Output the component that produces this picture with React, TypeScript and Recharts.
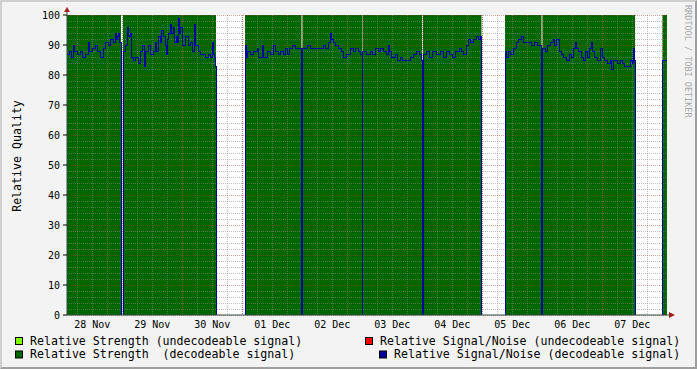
import React from 'react';
import {
  ComposedChart,
  Area,
  Line,
  XAxis,
  YAxis,
  CartesianGrid,
  ReferenceDot,
  Legend,
} from 'recharts';

// time is in hours since 28 Nov 00:00
const xDomain: [number, number] = [1.9, 241.9];
const dayLabels = ['28 Nov', '29 Nov', '30 Nov', '01 Dec', '02 Dec', '03 Dec', '04 Dec', '05 Dec', '06 Dec', '07 Dec'];
const dayNoonHours = [12, 36, 60, 84, 108, 132, 156, 180, 204, 228];
const midnightHours = [24, 48, 72, 96, 120, 144, 168, 192, 216, 240];
const sixHourMarks = [6, 12, 18, 24, 30, 36, 42, 48, 54, 60, 66, 72, 78, 84, 90, 96, 102, 108, 114, 120, 126, 132, 138, 144, 150, 156, 162, 168, 174, 180, 186, 192, 198, 204, 210, 216, 222, 228, 234, 240];
const yMajorTicks = [0, 10, 20, 30, 40, 50, 60, 70, 80, 90, 100];
const yMinorTicks = [2, 4, 6, 8, 12, 14, 16, 18, 22, 24, 26, 28, 32, 34, 36, 38, 42, 44, 46, 48, 52, 54, 56, 58, 62, 64, 66, 68, 72, 74, 76, 78, 82, 84, 86, 88, 92, 94, 96, 98];

// relative strength (decodeable) is at full scale wherever data exists
const strengthLevel = 100;

// periods with data: [start hour, end hour]
const dataPeriods: [number, number][] = [
  [1.9, 23.5], [24.3, 61.5], [73.1, 95.7], [96.1, 119.9], [120.1, 143.9],
  [144.3, 167.7], [177.1, 191.7], [192.1, 229.1], [240.1, 241.9],
];

// relative signal/noise (decodeable) per period: [hour, value]
const snrA: [number, number][] = [[1.9, 87], [2.7, 88], [3.5, 86], [4.3, 90], [4.7, 88], [5.9, 87], [7.1, 88], [7.9, 86], [9.1, 87], [10.3, 91], [10.7, 88], [11.9, 89], [13.1, 90], [13.9, 88], [15.1, 86], [16.3, 89], [17.1, 91], [18.3, 90], [19.1, 92], [20.3, 91], [21.1, 94], [21.5, 92], [21.9, 93], [22.3, 94], [22.7, 91]];
const snrB: [number, number][] = [[24.3, 88], [25.1, 90], [25.9, 96], [26.3, 93], [27.1, 94], [27.5, 86], [28.3, 85], [29.1, 86], [30.3, 84], [31.1, 88], [31.9, 90], [32.7, 83], [33.1, 88], [34.3, 90], [35.1, 87], [36.3, 88], [37.1, 91], [37.5, 88], [38.3, 93], [39.1, 91], [39.5, 95], [40.3, 93], [41.1, 90], [41.5, 87], [41.9, 92], [42.3, 94], [43.1, 97], [43.5, 94], [44.3, 96], [44.7, 91], [45.5, 93], [45.9, 91], [46.3, 99], [46.7, 94], [47.1, 96], [47.9, 90], [49.1, 93], [50.3, 90], [51.1, 91], [51.9, 88], [52.7, 97], [53.1, 90], [54.3, 88], [55.1, 87], [57.1, 86], [58.3, 87], [59.1, 86], [59.9, 91], [60.3, 87], [60.7, 86], [61.1, 83]];
const snrC: [number, number][] = [[73.1, 90], [73.5, 86], [73.9, 88], [75.1, 87], [76.3, 88], [77.9, 89], [78.3, 86], [79.9, 90], [80.3, 86], [81.9, 88], [83.1, 87], [84.3, 90], [85.1, 88], [86.3, 87], [87.1, 88], [88.3, 87], [89.1, 89], [89.9, 87], [90.7, 89], [91.9, 90], [93.1, 89]];
const snrD: [number, number][] = [[96.1, 89], [97.9, 90], [99.1, 89], [103.1, 89], [104.3, 90], [105.1, 89], [106.3, 91], [107.1, 94], [107.5, 92], [108.3, 91], [109.1, 90], [110.3, 89], [111.5, 88], [112.3, 86], [113.5, 87], [115.1, 89], [116.3, 88], [117.1, 89], [118.3, 88], [119.1, 87]];
const snrE: [number, number][] = [[120.1, 88], [121.5, 87], [123.1, 88], [123.9, 87], [125.1, 89], [126.3, 88], [127.1, 89], [128.3, 88], [129.5, 87], [130.3, 90], [130.7, 88], [131.5, 86], [133.1, 87], [133.9, 85], [135.1, 86], [135.9, 85], [139.1, 86], [140.3, 87], [141.5, 88], [142.7, 87], [143.5, 85]];
const snrF: [number, number][] = [[144.3, 87], [145.5, 88], [146.7, 86], [147.9, 88], [149.5, 87], [151.1, 88], [152.3, 86], [153.5, 88], [154.7, 87], [155.9, 86], [157.1, 88], [158.7, 89], [159.5, 88], [160.3, 87], [161.5, 90], [162.3, 92], [163.1, 91], [164.3, 92], [165.5, 93], [166.3, 92], [167.1, 93]];
const snrG: [number, number][] = [[177.1, 88], [177.5, 86], [178.3, 88], [179.1, 87], [180.3, 89], [181.5, 91], [182.3, 92], [183.5, 93], [184.3, 91], [186.3, 91], [187.5, 90], [188.7, 91], [189.9, 90]];
const snrH: [number, number][] = [[192.1, 89], [193.1, 88], [193.9, 90], [195.1, 91], [196.3, 92], [196.7, 90], [197.5, 92], [198.7, 88], [199.5, 87], [200.3, 86], [201.5, 85], [202.7, 87], [203.5, 86], [204.3, 89], [205.1, 91], [205.5, 89], [206.3, 88], [207.5, 86], [208.3, 85], [209.1, 88], [209.9, 86], [210.7, 89], [211.5, 91], [211.9, 88], [212.7, 86], [213.9, 85], [215.1, 89], [215.9, 86], [216.7, 85], [217.9, 84], [219.1, 85], [219.5, 82], [220.3, 85], [221.9, 84], [223.1, 85], [223.9, 84], [224.7, 83], [227.1, 85], [227.9, 84], [228.3, 89], [228.7, 85]];
const snrI: [number, number][] = [[240.1, 85]];
const snrPeriods = [snrA, snrB, snrC, snrD, snrE, snrF, snrG, snrH, snrI];

const legendItems = [
  { label: 'Relative Strength (undecodeable signal)', color: '#80FF00' },
  { label: 'Relative Signal/Noise (undecodeable signal)', color: '#FF0000' },
  { label: 'Relative Strength  (decodeable signal)', color: '#006600' },
  { label: 'Relative Signal/Noise (decodeable signal)', color: '#000099' },
];

type Row = { t: number; s: number | null; q: number | null };

function buildTable(): Row[] {
  const rows: Row[] = [];
  const n = dataPeriods.length;
  dataPeriods.forEach(([start, end], i) => {
    const pts = snrPeriods[i];
    if (i > 0) rows.push({ t: start, s: strengthLevel, q: 0 });
    pts.forEach(([t, v]) => rows.push({ t, s: strengthLevel, q: v }));
    rows.push({ t: end, s: strengthLevel, q: pts[pts.length - 1][1] });
    if (i < n - 1) {
      rows.push({ t: end, s: strengthLevel, q: 0 });
      rows.push({ t: (end + dataPeriods[i + 1][0]) / 2, s: null, q: null });
    }
  });
  return rows;
}

const table = buildTable();

const MONO = '"DejaVu Sans Mono", monospace';
const ARROW = '#a01e1e';

const UpArrow = (p: any) => {
  const { cx, cy } = p;
  return (
    <g>
      <line x1={cx} y1={cy} x2={cx} y2={cy - 3} stroke="#2c4d43" />
      <polygon points={`${cx - 3},${cy - 3} ${cx + 3},${cy - 3} ${cx},${cy - 8}`} fill={ARROW} />
    </g>
  );
};

const RightArrow = (p: any) => {
  const { cx, cy } = p;
  return (
    <g>
      <line x1={cx} y1={cy} x2={cx + 2} y2={cy} stroke="#2c4d43" />
      <polygon points={`${cx + 2},${cy - 3} ${cx + 2},${cy + 3} ${cx + 8},${cy}`} fill={ARROW} />
    </g>
  );
};

const renderLegend = () => {
  const boxX = [15, 365, 15, 379];
  const textX = [30, 380, 30, 394];
  return (
    <svg width={697} height={39} style={{ display: 'block' }}>
      {legendItems.map((it, i) => {
        const row = i < 2 ? 0 : 1;
        const y = 7 + row * 13.5;
        return (
          <g key={it.label}>
            <rect x={boxX[i] + 0.5} y={y + 0.5} width={7} height={7} fill={it.color} stroke="#000" strokeWidth={1} />
            <text x={textX[i]} y={y + 7.5} fontFamily={MONO} fontSize={11.6} fill="#000" style={{ whiteSpace: 'pre' }} xmlSpace="preserve">
              {it.label}
            </text>
          </g>
        );
      })}
    </svg>
  );
};

const gridExtra: any = { zIndex: 150, shapeRendering: 'crispEdges' };
const lineExtra: any = { shapeRendering: 'crispEdges' };

export default function App() {
  return (
    <div style={{ position: 'absolute', left: 0, top: 0, width: 697, height: 369, background: '#F3F3F3', overflow: 'hidden' }}>
      <ComposedChart
        width={697}
        height={369}
        data={table}
        margin={{ top: 15, right: 30, bottom: 24, left: 0 }}
      >
        <CartesianGrid fill="#FFFFFF" horizontal={false} vertical={false} />
        <XAxis
          dataKey="t"
          type="number"
          domain={xDomain}
          allowDataOverflow
          ticks={dayNoonHours}
          tickFormatter={(v: number) => dayLabels[dayNoonHours.indexOf(v)] ?? ''}
          tick={{ fontFamily: MONO, fontSize: 10, fill: '#000' }}
          tickLine={false}
          tickSize={4}
          tickMargin={2}
          axisLine={{ stroke: '#2c4d43' }}
          height={30}
          interval={0}
        />
        <YAxis
          type="number"
          domain={[0, 100]}
          ticks={yMajorTicks}
          tick={{ fontFamily: MONO, fontSize: 10, fill: '#000' }}
          tickLine={{ stroke: '#000' }}
          tickSize={4}
          tickMargin={3}
          axisLine={{ stroke: '#2c4d43' }}
          width={67}
          interval={0}
          allowDataOverflow
        />
        <Area
          dataKey="s"
          type="stepAfter"
          fill="#006600"
          fillOpacity={1}
          stroke="none"
          connectNulls={false}
          isAnimationActive={false}
          dot={false}
          activeDot={false}
        />
        <Line
          {...lineExtra}
          dataKey="q"
          type="stepAfter"
          stroke="#0000A0"
          strokeWidth={1}
          dot={false}
          activeDot={false}
          connectNulls={false}
          isAnimationActive={false}
        />
        <CartesianGrid
          {...gridExtra}
          verticalValues={sixHourMarks}
          horizontalValues={yMinorTicks}
          stroke="#8C8C8C"
          strokeOpacity={0.55}
          strokeDasharray="1 1"
        />
        <CartesianGrid
          {...gridExtra}
          verticalValues={midnightHours}
          horizontalValues={yMajorTicks}
          stroke="#B03030"
          strokeOpacity={0.45}
          strokeDasharray="1 1"
        />
        <ReferenceDot x={xDomain[0]} y={100} r={0} ifOverflow="visible" shape={UpArrow} />
        <ReferenceDot x={xDomain[1]} y={0} r={0} ifOverflow="visible" shape={RightArrow} />
        <Legend
          layout="horizontal"
          verticalAlign="middle"
          align="center"
          content={renderLegend}
          wrapperStyle={{ position: 'absolute', left: 0, top: 330, width: 697, height: 39, margin: 0 }}
        />
      </ComposedChart>
      <svg width={697} height={369} style={{ position: 'absolute', left: 0, top: 0, pointerEvents: 'none' }}>
        <text
          x={0}
          y={0}
          transform="translate(21,156) rotate(-90)"
          textAnchor="middle"
          fontFamily={MONO}
          fontSize={11.6}
          fill="#000"
        >
          Relative Quality
        </text>
        <text
          x={0}
          y={0}
          transform="translate(685,5) rotate(90)"
          fontFamily={MONO}
          fontSize={8.5}
          fill="#A8A8A8"
        >
          RRDTOOL / TOBI OETIKER
        </text>
      </svg>
      <div
        style={{
          position: 'absolute',
          left: 0,
          top: 0,
          width: 697,
          height: 369,
          boxSizing: 'border-box',
          borderTop: '2px solid #CFCFCF',
          borderLeft: '2px solid #CFCFCF',
          borderBottom: '2px solid #9E9E9E',
          borderRight: '2px solid #9E9E9E',
          pointerEvents: 'none',
        }}
      />
    </div>
  );
}
